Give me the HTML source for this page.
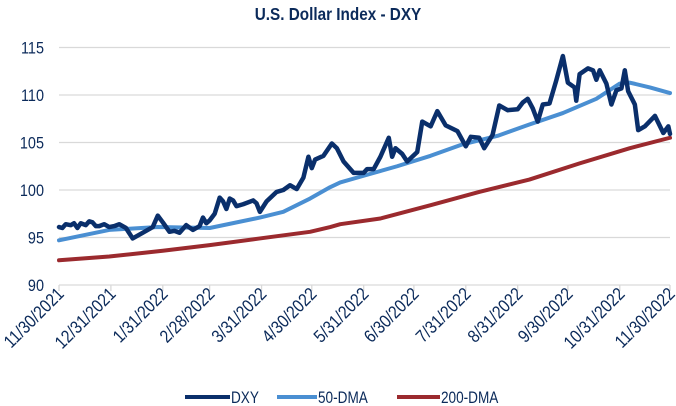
<!DOCTYPE html>
<html><head><meta charset="utf-8"><style>
body{margin:0;background:#fff;}
svg{display:block;font-family:"Liberation Sans Narrow","Liberation Sans",sans-serif;}
</style></head><body>
<svg id="chart" width="676" height="406">
<text x="0" y="0" transform="translate(338 20) scale(0.85 1)" text-anchor="middle" font-size="18" font-weight="bold" fill="#0b2a5a">U.S. Dollar Index - DXY</text>
<g id="grid"></g><g id="axes"></g><g id="series"></g>
<g>
<line x1="185" y1="397" x2="230" y2="397" stroke="#0a2f6b" stroke-width="4"/>
<text x="0" y="0" transform="translate(231 403) scale(0.8 1)" font-size="17" fill="#0b2a5a">DXY</text>
<line x1="277" y1="397" x2="317" y2="397" stroke="#4a8fd2" stroke-width="4"/>
<text x="0" y="0" transform="translate(318 403) scale(0.8 1)" font-size="17" fill="#0b2a5a">50-DMA</text>
<line x1="397" y1="397" x2="440" y2="397" stroke="#9b2a2e" stroke-width="4"/>
<text x="0" y="0" transform="translate(441 403) scale(0.8 1)" font-size="17" fill="#0b2a5a">200-DMA</text>
</g>
</svg>
<script>
const yTicks=[90,95,100,105,110,115];
const xTickDays=[0,31,62,90,121,151,182,212,243,274,304,335,365];
const xTickLabels=["11/30/2021","12/31/2021","1/31/2022","2/28/2022","3/31/2022","4/30/2022","5/31/2022","6/30/2022","7/31/2022","8/31/2022","9/30/2022","10/31/2022","11/30/2022"];
const dxyDays=[0,2,4,7,9,11,13,16,18,20,22,24,27,30,33,36,40,44,48,53,56,59,62,66,69,72,76,80,84,86,88,90,93,96,98,100,102,104,106,110,116,118,120,124,127,130,134,138,142,146,149,151,153,158,163,166,170,176,182,184,188,192,197,199,201,205,208,214,217,222,226,231,238,243,246,251,254,259,263,268,274,277,280,283,286,289,293,297,301,304,308,309,311,316,319,321,323,327,330,333,336,338,340,344,346,350,356,361,364,365];
const dxyValues=[96.1,96.0,96.4,96.3,96.5,96.0,96.5,96.3,96.7,96.6,96.2,96.2,96.4,96.1,96.2,96.4,96.0,94.9,95.3,95.8,96.1,97.3,96.6,95.6,95.7,95.5,96.3,95.8,96.2,97.1,96.5,96.8,97.5,99.2,98.8,98.0,99.1,98.9,98.3,98.5,98.9,98.6,97.7,98.8,99.3,99.8,100.0,100.5,100.1,101.3,103.5,102.3,103.2,103.6,104.9,104.4,103.0,101.8,101.8,102.2,102.2,103.5,105.5,103.5,104.4,103.8,103.0,104.0,107.2,106.7,108.3,106.8,106.2,104.6,105.6,105.5,104.4,105.8,108.9,108.4,108.5,109.2,109.6,108.6,107.2,109.0,109.1,111.5,114.1,111.3,110.8,109.4,112.2,112.8,112.6,111.6,112.6,111.2,109.0,110.5,110.7,112.6,110.4,109.0,106.3,106.7,107.8,106.0,106.7,105.9];
const dma50Days=[0,30,59,90,120,134,150,162,168,182,202,222,241,262,281,301,321,335,341,353,365];
const dma50Values=[94.7,95.8,96.1,96.0,97.1,97.7,99.1,100.3,100.8,101.5,102.5,103.6,104.8,105.7,106.9,108.1,109.6,111.2,111.3,110.8,110.2];
const dma200Days=[0,30,62,90,120,150,162,168,192,222,251,281,311,341,365];
const dma200Values=[92.6,93.0,93.6,94.2,94.9,95.6,96.1,96.4,97.0,98.4,99.8,101.1,102.8,104.4,105.5];

const NS="http://www.w3.org/2000/svg";
const X0=59,X1=670,Y0=285,Y1=47.5;
function xs(d){return X0+(X1-X0)*d/365;}
function ys(v){return Y0-(Y0-Y1)*(v-90)/25;}
function mk(t,a,p){const e=document.createElementNS(NS,t);for(const k in a)e.setAttribute(k,a[k]);p.appendChild(e);return e;}
const grid=document.getElementById('grid'),axes=document.getElementById('axes'),ser=document.getElementById('series');
yTicks.forEach(v=>{
  if(v>90){const l=mk('line',{x1:X0,x2:X1,y1:ys(v),y2:ys(v),stroke:'#d9d9d9','stroke-width':1.3},grid);
  
  }
  const t=mk('text',{x:0,y:0,transform:`translate(44 ${ys(v)+6}) scale(0.85 1)`,'text-anchor':'end','font-size':17,fill:'#0b2a5a'},axes);t.textContent=v;
  
  
});
const ax=mk('line',{x1:X0,x2:X1,y1:Y0,y2:Y0,stroke:'#d9d9d9','stroke-width':1.3},axes);


xTickDays.forEach((d,i)=>{
  const x=xs(d);
  const tk=mk('line',{x1:x,x2:x,y1:Y0,y2:Y0+6,stroke:'#d9d9d9','stroke-width':1.3},axes);
  
  
  const t=mk('text',{x:0,y:0,'text-anchor':'end','font-size':18,fill:'#0b2a5a',transform:`translate(${x+6} ${Y0+10}) rotate(-45) scale(0.86 1)`},axes);
  t.textContent=xTickLabels[i];
  
  
});
function line(days,vals,color,w,name){
  const p=mk('polyline',{points:days.map((d,i)=>xs(d)+','+ys(vals[i])).join(' '),fill:'none',stroke:color,'stroke-width':w,'stroke-linejoin':'round','stroke-linecap':'round'},ser);
  
  
}
line(dma200Days,dma200Values,'#9b2a2e',4,'series-200dma');
line(dma50Days,dma50Values,'#4a8fd2',4,'series-50dma');
line(dxyDays,dxyValues,'#0a2f6b',4.5,'series-dxy');
</script>
</body></html>
